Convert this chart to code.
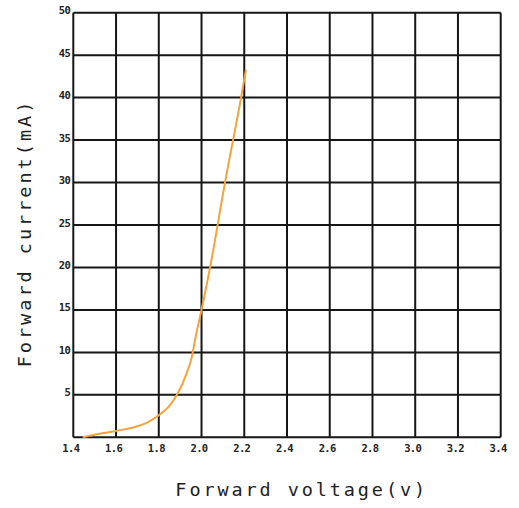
<!DOCTYPE html>
<html>
<head>
<meta charset="utf-8">
<script src="https://cdn.jsdelivr.net/npm/d3@7"></script>
<style>
  body { margin: 0; background: #fff; }
  svg { display: block; }
</style>
</head>
<body>
<div id="chart"></div>
<script>
// forward voltage (V) vs forward current (mA)
const voltage = [1.444, 1.5, 1.6, 1.7, 1.75, 1.8, 1.85, 1.885, 1.93, 1.955, 1.97, 2.0, 2.04, 2.11, 2.185, 2.208];
const current = [0, 0.3, 0.75, 1.3, 1.8, 2.6, 3.7, 5, 7.5, 9.5, 11.5, 15, 20, 30, 40, 43.3];

// tick labels
const xTicks = [1.4, 1.6, 1.8, 2.0, 2.2, 2.4, 2.6, 2.8, 3.0, 3.2, 3.4];
const yTicks = [0, 5, 10, 15, 20, 25, 30, 35, 40, 45, 50];

const width = 519;
const height = 508;

const svg = d3
  .select("#chart")
  .append("svg")
  .attr("width", width)
  .attr("height", height);

// plot box
const margin = { top: 12.7, right: 18.3, bottom: 70.7, left: 73.3 };

const x = d3
  .scaleLinear()
  .domain([1.4, 3.4])
  .range([margin.left, width - margin.right]);

const y = d3
  .scaleLinear()
  .domain([0, 50])
  .range([height - margin.bottom, margin.top]);

const gridColor = "#161616";
const lineColor = "#f5a33b";

// grid lines (vertical + horizontal)
const grid = svg.append("g");
grid
  .selectAll("line.v")
  .data(xTicks)
  .enter()
  .append("line")
  .attr("class", "v")
  .attr("x1", d => x(d))
  .attr("x2", d => x(d))
  .attr("y1", y(0))
  .attr("y2", y(50))
  .attr("stroke", gridColor)
  .attr("stroke-width", 2);

grid
  .selectAll("line.h")
  .data(yTicks)
  .enter()
  .append("line")
  .attr("class", "h")
  .attr("x1", x(1.4))
  .attr("x2", x(3.4))
  .attr("y1", d => y(d))
  .attr("y2", d => y(d))
  .attr("stroke", gridColor)
  .attr("stroke-width", 2);

// tick labels
const tickFont = "'DejaVu Sans Mono', monospace";

svg
  .append("g")
  .selectAll("text")
  .data(xTicks)
  .enter()
  .append("text")
  .attr("x", d => x(d) - 2.5)
  .attr("y", y(0) + 15)
  .attr("text-anchor", "middle")
  .attr("font-family", tickFont)
  .attr("font-size", 10.5)
  .attr("font-weight", "bold")
  .attr("letter-spacing", -0.6)
  .attr("fill", "#222")
  .text(d => d.toFixed(1));

svg
  .append("g")
  .selectAll("text")
  .data(yTicks.filter(d => d > 0))
  .enter()
  .append("text")
  .attr("x", x(1.4) - 3)
  .attr("y", d => y(d) + 1.5)
  .attr("text-anchor", "end")
  .attr("font-family", tickFont)
  .attr("font-size", 10.5)
  .attr("font-weight", "bold")
  .attr("letter-spacing", -0.6)
  .attr("fill", "#222")
  .text(d => d);

// the curve
const line = d3
  .line()
  .x((d, i) => x(voltage[i]))
  .y(d => y(d))
  .curve(d3.curveMonotoneX);

svg
  .append("path")
  .datum(current)
  .attr("d", line)
  .attr("fill", "none")
  .attr("stroke", lineColor)
  .attr("stroke-width", 2);

// axis titles
svg
  .append("text")
  .attr("x", 301.7)
  .attr("y", 496)
  .attr("text-anchor", "middle")
  .attr("font-family", tickFont)
  .attr("font-size", 18.5)
  .attr("letter-spacing", 2.9)
  .attr("fill", "#222")
  .text("Forward voltage(v)");

svg
  .append("text")
  .attr("transform", "translate(31, 233) rotate(-90)")
  .attr("text-anchor", "middle")
  .attr("font-family", tickFont)
  .attr("font-size", 18.5)
  .attr("letter-spacing", 3)
  .attr("fill", "#222")
  .text("Forward current(mA)");
</script>
</body>
</html>
